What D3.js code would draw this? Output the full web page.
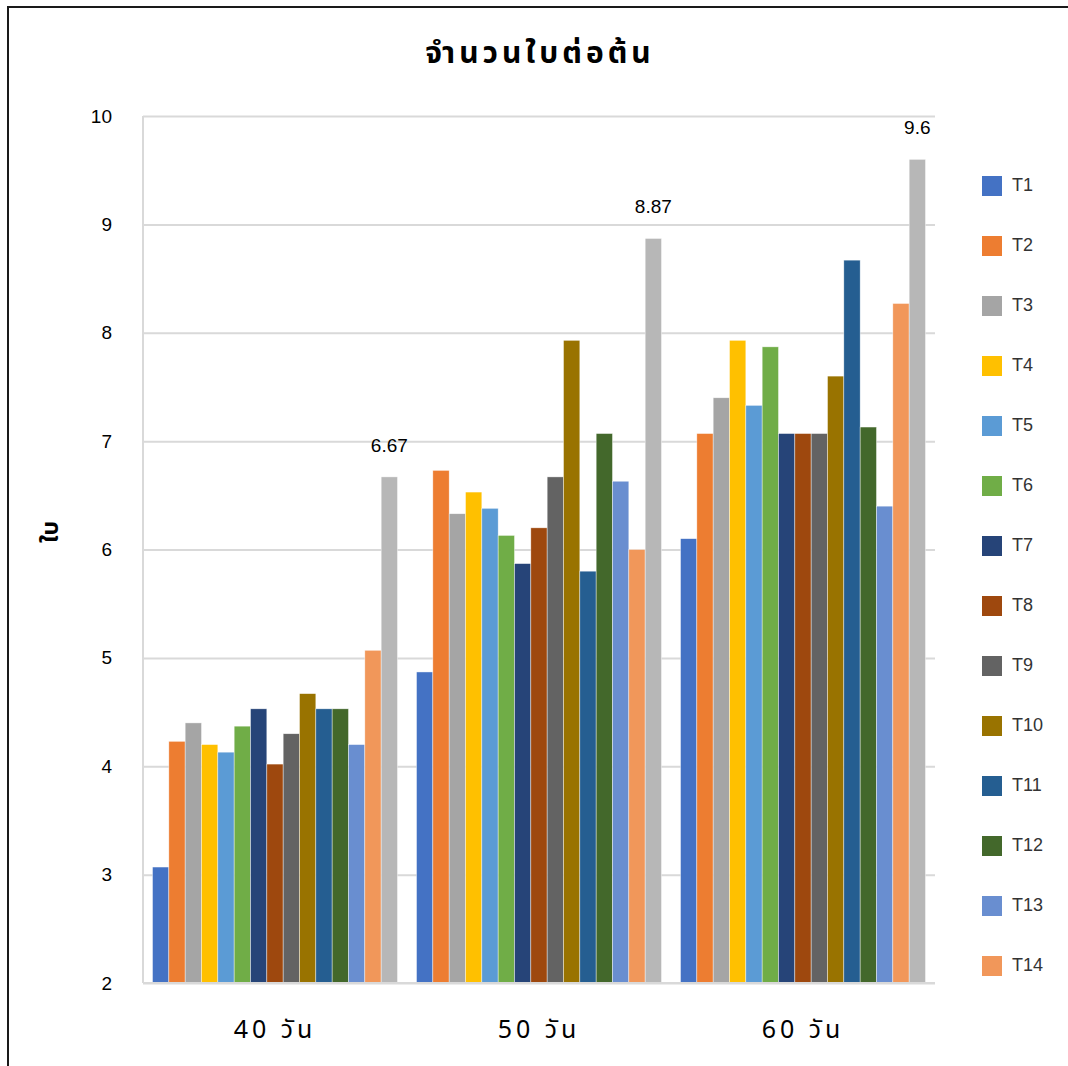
<!DOCTYPE html>
<html>
<head>
<meta charset="utf-8">
<script src="https://cdn.jsdelivr.net/npm/d3@7"></script>
<style>
  html, body { margin: 0; padding: 0; background: #fff; }
  svg { display: block; }
</style>
</head>
<body>
<svg id="chart" width="1068" height="1066"></svg>
<script>
// Leaf count per plant at three sampling ages
const categories = ["40 วัน", "50 วัน", "60 วัน"];
const series = ["T1","T2","T3","T4","T5","T6","T7","T8","T9","T10","T11","T12","T13","T14","T15"];
const legendSeries = ["T1","T2","T3","T4","T5","T6","T7","T8","T9","T10","T11","T12","T13","T14"];
const values40 = [3.07, 4.23, 4.40, 4.20, 4.13, 4.37, 4.53, 4.02, 4.30, 4.67, 4.53, 4.53, 4.20, 5.07, 6.67];
const values50 = [4.87, 6.73, 6.33, 6.53, 6.38, 6.13, 5.87, 6.20, 6.67, 7.93, 5.80, 7.07, 6.63, 6.00, 8.87];
const values60 = [6.10, 7.07, 7.40, 7.93, 7.33, 7.87, 7.07, 7.07, 7.07, 7.60, 8.67, 7.13, 6.40, 8.27, 9.60];
const yTicks = [2, 3, 4, 5, 6, 7, 8, 9, 10];
const labelledSeries = ["T15"];
const colors = ["#4472C4","#ED7D31","#A5A5A5","#FFC000","#5B9BD5","#70AD47","#264478",
                "#9E480E","#636363","#997300","#255E91","#43682B","#698ED0","#F1975A","#B7B7B7"];

const table = categories.map((c, i) => ({
  category: c,
  values: [values40, values50, values60][i]
}));

const svg = d3.select("#chart");
const plot = { left: 143, right: 935, top: 116, bottom: 983 };
const thaiFont = "'Noto Sans Thai', 'Noto Sans', 'DejaVu Sans', sans-serif";
const latinFont = "'Liberation Sans', Arial, sans-serif";

const x0 = d3.scaleBand().domain(categories).range([plot.left, plot.right])
  .paddingInner(0.072).paddingOuter(0.036);
const x1 = d3.scaleBand().domain(series).range([0, x0.bandwidth()]);
const y = d3.scaleLinear().domain([2, 10]).range([plot.bottom, plot.top]);
const color = d3.scaleOrdinal().domain(series).range(colors);

// outer frame
svg.append("line").attr("x1", 8).attr("x2", 1068).attr("y1", 7).attr("y2", 7)
  .attr("stroke", "#1a1a1a").attr("stroke-width", 2);
svg.append("line").attr("x1", 8).attr("x2", 8).attr("y1", 6).attr("y2", 1066)
  .attr("stroke", "#1a1a1a").attr("stroke-width", 2);

// title
svg.append("text").attr("x", 540).attr("y", 63).attr("text-anchor", "middle")
  .attr("font-family", thaiFont)
  .attr("font-size", 30).attr("font-weight", "bold").attr("letter-spacing", 4)
  .attr("fill", "#000").text("จำนวนใบต่อต้น");

// gridlines
const grid = d3.axisLeft(y).tickValues(yTicks).tickSize(-(plot.right - plot.left)).tickFormat("");
svg.append("g").attr("transform", `translate(${plot.left},0)`).call(grid)
  .call(g => g.select(".domain").remove())
  .call(g => g.selectAll(".tick line").attr("stroke", "#d9d9d9").attr("stroke-width", 2));

// y axis labels
const yAxis = d3.axisLeft(y).tickValues(yTicks).tickSize(0).tickPadding(0).tickFormat(d3.format("d"));
svg.append("g").attr("transform", `translate(112,0)`).call(yAxis)
  .call(g => g.select(".domain").remove())
  .call(g => g.selectAll("text").attr("font-family", latinFont)
    .attr("font-size", 19).attr("fill", "#000"));

// left axis line
svg.append("line").attr("x1", plot.left).attr("x2", plot.left)
  .attr("y1", plot.top).attr("y2", plot.bottom).attr("stroke", "#d9d9d9").attr("stroke-width", 2);

// y axis title
svg.append("text").attr("transform", `translate(58,532) rotate(-90)`)
  .attr("text-anchor", "middle")
  .attr("font-family", thaiFont)
  .attr("font-size", 23).attr("font-weight", "bold").attr("fill", "#000").text("ใบ");

// bars
const groups = svg.append("g").selectAll("g").data(table).join("g")
  .attr("transform", d => `translate(${x0(d.category)},0)`);

groups.selectAll("rect")
  .data(d => d.values.map((v, i) => ({ key: series[i], value: v })))
  .join("rect")
  .attr("x", d => x1(d.key))
  .attr("width", x1.bandwidth())
  .attr("y", d => y(d.value))
  .attr("height", d => y(2) - y(d.value))
  .attr("fill", d => color(d.key))
  .attr("stroke", "#ffffff").attr("stroke-width", 0.6).attr("stroke-opacity", 0.7);

// value labels
groups.selectAll("text.val")
  .data(d => d.values.map((v, i) => ({ key: series[i], value: v }))
    .filter(e => labelledSeries.includes(e.key)))
  .join("text").attr("class", "val")
  .attr("x", d => x1(d.key) + x1.bandwidth() / 2)
  .attr("y", d => y(d.value) - 25)
  .attr("text-anchor", "middle")
  .attr("font-family", latinFont)
  .attr("font-size", 19).attr("fill", "#000")
  .text(d => d3.format("")(d.value));

// x axis line
svg.append("line").attr("x1", plot.left).attr("x2", plot.right)
  .attr("y1", plot.bottom).attr("y2", plot.bottom).attr("stroke", "#d9d9d9").attr("stroke-width", 2);

// category labels
const xAxis = d3.axisBottom(x0).tickSize(0).tickPadding(0);
svg.append("g").attr("transform", `translate(0,1038)`).call(xAxis)
  .call(g => g.select(".domain").remove())
  .call(g => g.selectAll("text").attr("dy", 0)
    .attr("font-family", thaiFont)
    .attr("font-size", 25).attr("letter-spacing", 4).attr("fill", "#000"));

// legend
const legend = svg.append("g").selectAll("g").data(legendSeries).join("g")
  .attr("transform", (d, i) => `translate(982,${176 + i * 60})`);
legend.append("rect").attr("width", 20).attr("height", 20).attr("fill", d => color(d));
legend.append("text").attr("x", 30).attr("y", 15)
  .attr("font-family", latinFont)
  .attr("font-size", 18).attr("fill", "#333").text(d => d);
</script>
</body>
</html>
